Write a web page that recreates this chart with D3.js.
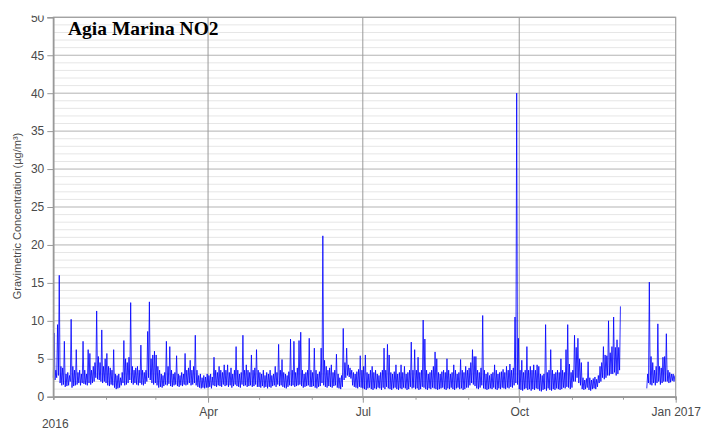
<!DOCTYPE html>
<html>
<head>
<meta charset="utf-8">
<script src="https://cdn.jsdelivr.net/npm/d3@7"></script>
<style>
html,body{margin:0;padding:0;background:#fff;}
svg{display:block;}
</style>
</head>
<body>
<svg id="chart" width="703" height="430"></svg>
<script>
// ---- Data (daily low / daily peak of hourly NO2, µg/m³) ----
const yTicks = [0,5,10,15,20,25,30,35,40,45,50];
const xTickLabels = ["Apr","Jul","Oct","Jan 2017"];
const yearLabel = "2016";
const title = "Agia Marina NO2";
const yLabel = "Gravimetric Concentration (µg/m³)";

const janLow  = [2.5,2.2,2.5,2.8,1.8,1.5,1.6,1.3,1.4,1.5,2.0,1.2,1.4,1.5,1.6,1.8,1.5,1.8,1.7,1.6,1.5,1.8,1.6,1.8,2.0,2.5,2.3,2.2,2.0,1.8,2.0];
const janHigh = [8.4,3.5,9.5,16.0,4.0,3.8,7.3,3.0,3.2,2.8,10.2,4.0,3.5,6.2,3.2,3.5,3.0,7.3,3.5,3.0,6.2,5.7,3.5,4.0,4.5,11.3,5.3,4.5,8.8,4.0,5.0];
const febLow  = [1.8,1.5,1.4,1.6,1.5,1.2,1.0,1.1,1.2,1.5,1.8,1.5,1.6,1.8,2.2,1.8,1.6,1.8,1.6,1.5,1.8,1.6,1.5,1.7,2.0,2.5,2.2,1.8,1.6];
const febHigh = [5.7,4.0,3.8,3.5,6.2,3.0,2.8,3.0,2.5,3.2,7.4,5.0,4.5,5.2,12.4,4.0,3.5,3.8,4.0,3.5,6.8,3.5,3.2,3.5,8.6,12.5,5.0,5.5,6.0];
const marLow  = [1.8,1.5,1.2,1.3,1.2,1.4,1.6,1.5,1.7,1.4,1.3,1.5,1.6,1.4,1.3,1.5,1.4,1.6,1.5,1.6,1.8,1.5,1.6,1.8,1.5,1.3,1.2,1.1,1.2,1.1,1.2];
const marHigh = [5.5,4.0,3.5,3.0,2.8,3.2,7.3,4.0,6.6,3.5,3.0,3.2,5.4,3.0,2.8,3.2,3.0,5.7,3.5,3.8,4.8,3.5,4.0,8.1,3.5,2.8,3.0,2.5,2.8,2.6,3.0];
const aprLow  = [1.2,1.3,1.1,1.5,1.4,1.3,1.5,1.4,1.3,1.6,1.4,1.5,1.3,1.5,1.2,1.4,1.6,1.4,1.3,1.2,1.6,1.4,1.5,1.3,1.4,1.5,1.3,1.4,1.6,1.3];
const aprHigh = [2.8,3.0,2.6,5.2,3.5,3.2,4.0,3.5,3.2,4.2,3.5,4.2,3.2,3.8,3.0,3.5,6.6,3.5,3.0,3.2,8.1,3.5,4.2,3.5,3.2,5.5,3.5,3.8,6.2,3.5];
const mayLow  = [1.3,1.2,1.4,1.2,1.3,1.1,1.3,1.2,1.4,1.5,1.3,1.6,1.4,1.5,1.3,1.2,1.1,1.3,1.5,1.4,1.5,1.3,1.4,1.5,1.6,1.4,1.2,1.3,1.4,1.5,1.3];
const mayHigh = [3.2,3.0,3.5,2.8,3.2,3.0,3.5,2.8,3.0,4.0,3.2,6.9,3.5,4.9,3.2,3.0,2.8,3.3,7.6,3.5,7.3,3.2,3.8,7.4,8.5,3.5,3.0,3.2,3.5,7.7,3.5];
const junLow  = [1.3,1.4,1.2,1.1,1.3,1.4,1.8,1.5,1.3,1.2,1.4,1.3,1.2,1.4,1.5,1.2,1.1,1.0,1.3,2.2,2.5,2.8,2.6,2.4,1.5,1.3,1.2,1.1,1.3,1.2];
const junHigh = [3.2,6.4,3.5,3.0,3.3,6.4,21.2,4.8,4.0,3.5,3.8,4.2,3.2,3.5,5.6,3.0,2.5,2.8,9.0,4.5,6.4,4.2,3.8,3.5,3.2,3.0,3.3,3.6,5.4,3.5];
const julLow  = [1.1,1.0,0.9,1.1,1.2,1.0,0.9,1.1,1.0,1.2,1.1,0.9,1.2,1.0,1.3,1.1,1.0,0.9,1.1,1.2,1.0,0.9,1.1,1.0,1.2,1.1,0.9,1.0,1.3,1.1,1.2];
const julHigh = [4.0,5.5,3.2,3.0,3.5,4.0,3.2,3.5,3.0,2.8,3.2,3.5,6.4,3.5,6.9,5.5,3.2,3.0,3.3,4.2,3.0,3.2,4.2,3.2,4.0,3.0,3.2,3.5,7.2,3.5,6.2];
const augLow  = [1.0,1.1,0.9,1.0,1.3,1.2,1.0,0.9,1.1,1.0,1.2,1.1,1.0,0.9,1.0,1.1,1.2,1.0,0.9,1.1,1.0,1.2,1.0,0.9,1.1,1.2,1.0,1.1,0.9,1.0,1.2];
const augHigh = [3.5,5.2,3.2,3.5,10.1,7.6,3.5,3.0,3.2,3.5,4.0,5.9,5.0,3.2,3.0,3.3,3.5,3.2,5.0,3.5,3.0,3.2,4.2,3.5,3.0,3.2,4.9,3.5,3.2,4.0,3.5];
const sepLow  = [1.2,1.5,1.8,1.6,1.4,1.1,1.0,1.2,1.5,1.1,1.0,0.9,1.0,1.1,1.0,1.2,1.0,0.9,1.1,1.0,1.2,1.1,1.0,1.2,1.1,1.3,1.2,1.5,1.8,1.6];
const sepHigh = [3.8,4.5,6.2,5.3,5.3,3.5,3.2,3.8,10.7,3.5,3.0,3.2,2.8,3.0,3.2,4.2,3.5,3.0,3.2,3.3,3.6,3.2,4.0,3.5,4.3,3.5,3.8,10.5,40.0,7.7];
const octLow  = [1.0,0.9,0.8,1.0,1.1,0.9,1.0,0.8,1.0,0.9,1.1,1.0,0.8,0.7,0.9,1.0,0.8,1.1,0.9,0.8,1.0,0.9,1.1,1.0,0.9,1.0,1.2,1.1,1.3,1.2,1.0];
const octHigh = [3.5,4.8,3.2,3.5,6.6,3.5,4.0,3.5,4.2,3.5,4.2,4.0,3.0,2.8,3.0,9.5,3.2,3.5,6.2,3.5,3.0,3.2,3.5,3.2,5.0,3.5,3.2,6.2,9.5,4.3,3.2];
const novLow  = [1.2,2.0,2.0,2.5,1.8,1.5,1.0,0.9,1.0,1.2,0.9,0.8,1.0,1.1,1.0,1.3,1.8,2.0,2.5,2.3,2.5,2.8,2.8,3.0,3.0,3.2,2.8,3.0,3.5,null];
const novHigh = [3.5,8.1,6.5,7.7,5.0,4.5,2.5,2.2,2.4,4.6,2.5,2.2,2.4,2.6,2.3,2.8,4.0,4.5,6.6,5.5,5.4,10.0,5.8,6.6,10.5,6.5,7.5,6.5,11.9,null];
const decLow  = [null,null,null,null,null,null,null,null,null,null,null,null,null,null,1.1,1.8,1.6,1.5,1.8,1.5,1.8,2.0,1.6,1.8,2.0,2.0,2.0,1.8,1.9,2.1,2.0];
const decHigh = [null,null,null,null,null,null,null,null,null,null,null,null,null,null,3.0,15.1,5.3,4.5,3.5,4.0,9.6,4.0,3.8,5.2,5.3,8.3,3.5,3.2,3.0,3.0,2.8];

const monthLows  = [janLow,febLow,marLow,aprLow,mayLow,junLow,julLow,augLow,sepLow,octLow,novLow,decLow];
const monthHighs = [janHigh,febHigh,marHigh,aprHigh,mayHigh,junHigh,julHigh,augHigh,sepHigh,octHigh,novHigh,decHigh];

// ---- Build point list ----
const points = [];
monthLows.forEach((lows, m) => {
  const start = new Date(Date.UTC(2016, m, 1));
  lows.forEach((lo, i) => {
    const day = d3.utcDay.offset(start, i);
    points.push({t: day, v: lo});
    points.push({t: d3.utcHour.offset(day, 12), v: monthHighs[m][i]});
  });
});

// ---- Layout ----
const svg = d3.select("#chart");
const pLeft = 53.3, pRight = 675.7, pTop = 17.3, pBottom = 396.7;
const x = d3.scaleUtc().domain([new Date(Date.UTC(2016,0,1)), new Date(Date.UTC(2017,0,1))]).range([pLeft, pRight]);
const y = d3.scaleLinear().domain([0, 50]).range([pBottom, pTop]);

const font = "'Liberation Sans', Arial, sans-serif";
const textColor = "#4a4a4a";

// minor horizontal grid (every 1)
svg.append("g").selectAll("line")
  .data(d3.range(1, 50).filter(v => v % 5 !== 0))
  .join("line")
  .attr("x1", pLeft).attr("x2", pRight)
  .attr("y1", d => y(d)).attr("y2", d => y(d))
  .attr("stroke", "#e6e6e6").attr("stroke-width", 1);

// major horizontal grid
svg.append("g").selectAll("line")
  .data(yTicks.filter(v => v > 0))
  .join("line")
  .attr("x1", pLeft).attr("x2", pRight)
  .attr("y1", d => y(d)).attr("y2", d => y(d))
  .attr("stroke", "#b3b3b3").attr("stroke-width", 1);

// vertical quarter grid lines
const quarterDates = [3, 6, 9].map(m => new Date(Date.UTC(2016, m, 1)));
svg.append("g").selectAll("line")
  .data(quarterDates)
  .join("line")
  .attr("x1", d => x(d)).attr("x2", d => x(d))
  .attr("y1", pTop).attr("y2", pBottom)
  .attr("stroke", "#9a9a9a").attr("stroke-width", 1);

// data line
const line = d3.line()
  .defined(d => d.v !== null)
  .x(d => x(d.t))
  .y(d => y(d.v));
svg.append("path")
  .datum(points)
  .attr("d", line)
  .attr("fill", "none")
  .attr("stroke", "#0000ff")
  .attr("stroke-opacity", 0.8)
  .attr("stroke-width", 1.0)
  .attr("stroke-linejoin", "round");

// plot frame
svg.append("rect")
  .attr("x", pLeft).attr("y", pTop)
  .attr("width", pRight - pLeft).attr("height", pBottom - pTop)
  .attr("fill", "none").attr("stroke", "#a0a0a0").attr("stroke-width", 1.2);

// y axis
const yAxis = d3.axisLeft(y).tickValues(yTicks).tickSize(6).tickPadding(3);
const gy = svg.append("g").attr("transform", `translate(${pLeft},0)`).call(yAxis);
gy.select(".domain").attr("stroke", "#999").attr("stroke-width", 1.5);
gy.selectAll(".tick line").attr("stroke", "#999");
gy.selectAll(".tick text").attr("fill", textColor).style("font-family", font).style("font-size", "12px");

// x axis: monthly minor ticks, quarterly major ticks with labels
const monthDates = d3.utcMonth.range(new Date(Date.UTC(2016,0,1)), new Date(Date.UTC(2017,0,2)));
const xMinor = d3.axisBottom(x).tickValues(monthDates).tickSize(3).tickFormat("");
const gxm = svg.append("g").attr("transform", `translate(0,${pBottom})`).call(xMinor);
gxm.select(".domain").attr("stroke", "#999").attr("stroke-width", 1.5);
gxm.selectAll(".tick line").attr("stroke", "#999");

const majorDates = [3, 6, 9, 12].map(m => new Date(Date.UTC(2016, m, 1)));
const xMajor = d3.axisBottom(x).tickValues(majorDates).tickSize(6).tickPadding(5)
  .tickFormat((d, i) => xTickLabels[i]);
const gx = svg.append("g").attr("transform", `translate(0,${pBottom})`).call(xMajor);
gx.select(".domain").remove();
gx.selectAll(".tick line").attr("stroke", "#999");
gx.selectAll(".tick text").attr("fill", textColor).style("font-family", font).style("font-size", "12px");

// year label under start
svg.append("text")
  .attr("x", x(new Date(Date.UTC(2016,0,1))) + 2).attr("y", 428)
  .attr("text-anchor", "middle")
  .attr("fill", textColor).style("font-family", font).style("font-size", "12px")
  .text(yearLabel);

// top white band (reference crops the top of the "50" label)
svg.append("rect").attr("x", 0).attr("y", 0).attr("width", 52).attr("height", 15.5).attr("fill", "#fff");

// y axis label
svg.append("text")
  .attr("transform", `translate(21,${(pTop + pBottom) / 2 + 9}) rotate(-90)`)
  .attr("text-anchor", "middle")
  .attr("fill", textColor).style("font-family", font).style("font-size", "11px")
  .text(yLabel);

// title
svg.append("text")
  .attr("x", 68).attr("y", 35)
  .attr("fill", "#000").style("font-family", "'Liberation Serif', 'Times New Roman', serif")
  .style("font-weight", "bold").style("font-size", "19.5px")
  .text(title);
</script>
</body>
</html>
